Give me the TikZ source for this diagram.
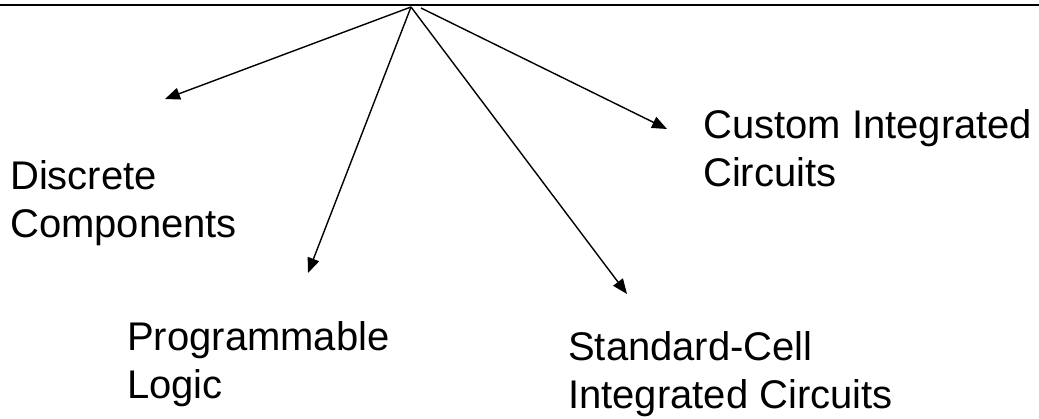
\documentclass[tikz,border=0pt]{standalone}
\usepackage{fontspec}
\setmainfont{Liberation Sans}
\usetikzlibrary{arrows.meta}
\begin{document}
\begin{tikzpicture}[x=1pt,y=-1pt,
  lbl/.style={anchor=base west,inner sep=0pt,align=left,font=\fontsize{40}{48}\selectfont},
  arr/.style={line width=1.4pt,-{Triangle[length=15pt,width=12pt]}}]
\useasboundingbox (0,0) rectangle (1039,419);
\draw[line width=1.6pt] (0,5) -- (1039,5);
\coordinate (o) at (411,7);
\coordinate (o2) at (421,8);
\coordinate (t1) at (165,99);
\coordinate (t2) at (308,273);
\coordinate (t3) at (627,294);
\coordinate (t4) at (667,129);
\node[lbl] (dc) at (10,238) {Discrete\\Components};
\node[lbl] (pl) at (127,399) {Programmable\\Logic};
\node[lbl] (sc) at (568,409) {Standard-Cell\\Integrated Circuits};
\node[lbl] (ci) at (703,187) {Custom Integrated\\Circuits};
\draw[arr] (o) -- (t1);
\draw[arr] (o) -- (t2);
\draw[arr] (o) -- (t3);
\draw[arr] (o2) -- (t4);
\end{tikzpicture}
\end{document}
